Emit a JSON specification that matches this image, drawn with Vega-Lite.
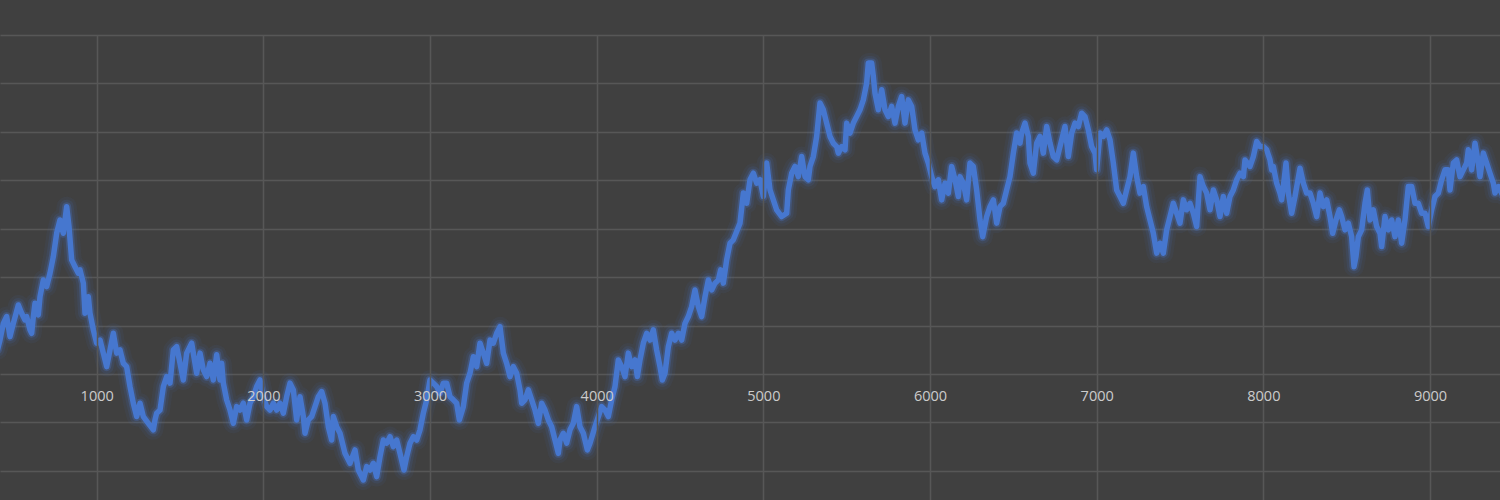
{
  "$schema": "https://vega.github.io/schema/vega-lite/v6.json",
  "width": 1500,
  "height": 465,
  "autosize": {"type": "none"},
  "padding": {"top": 35, "left": 0, "right": 0, "bottom": 0},
  "background": "#404040",
  "config": {
    "view": {"stroke": null},
    "axis": {"gridColor": "#575757", "gridWidth": 1.5, "gridOpacity": 1, "domain": false, "ticks": false}
  },
  "data": {"values": [
    {"step":405,"value":10.0},{"step":420,"value":14.0},{"step":440,"value":20.9},{"step":460,"value":23.7},{"step":480,"value":15.4},{"step":500,"value":20.9},{"step":530,"value":28.5},{"step":550,"value":25.1},{"step":570,"value":22.3},{"step":580,"value":23.7},{"step":600,"value":18.2},{"step":610,"value":16.8},{"step":620,"value":23.7},{"step":630,"value":29.2},{"step":650,"value":24.4},{"step":660,"value":31.9},{"step":680,"value":38.8},{"step":700,"value":36.1},{"step":720,"value":41.6},{"step":740,"value":48.5},{"step":760,"value":58.1},{"step":780,"value":63.6},{"step":800,"value":58.1},{"step":820,"value":69.1},{"step":834,"value":60.9},{"step":850,"value":47.1},{"step":870,"value":44.3},{"step":890,"value":41.6},{"step":900,"value":43.0},{"step":920,"value":37.5},{"step":930,"value":25.1},{"step":950,"value":31.9},{"step":960,"value":25.1},{"step":980,"value":18.2},{"step":1000,"value":12.7},{"step":1020,"value":14.0},{"step":1040,"value":8.6},{"step":1060,"value":3.0},{"step":1080,"value":9.9},{"step":1100,"value":16.8},{"step":1120,"value":8.6},{"step":1140,"value":9.9},{"step":1160,"value":4.4},{"step":1180,"value":3.0},{"step":1200,"value":-5.2},{"step":1220,"value":-12.1},{"step":1240,"value":-17.6},{"step":1260,"value":-12.1},{"step":1280,"value":-17.6},{"step":1310,"value":-20.4},{"step":1340,"value":-23.1},{"step":1350,"value":-19.0},{"step":1360,"value":-16.2},{"step":1380,"value":-14.9},{"step":1400,"value":-5.2},{"step":1420,"value":-1.1},{"step":1440,"value":-3.8},{"step":1460,"value":9.9},{"step":1480,"value":11.3},{"step":1500,"value":4.4},{"step":1520,"value":-2.5},{"step":1540,"value":8.6},{"step":1570,"value":12.7},{"step":1590,"value":4.4},{"step":1600,"value":0.3},{"step":1620,"value":8.6},{"step":1640,"value":1.7},{"step":1660,"value":-1.1},{"step":1680,"value":4.4},{"step":1700,"value":-2.5},{"step":1720,"value":7.9},{"step":1740,"value":-2.5},{"step":1750,"value":4.4},{"step":1760,"value":-3.8},{"step":1780,"value":-10.7},{"step":1800,"value":-14.9},{"step":1820,"value":-20.4},{"step":1840,"value":-13.5},{"step":1860,"value":-14.9},{"step":1880,"value":-12.1},{"step":1900,"value":-19.0},{"step":1920,"value":-12.1},
    {"step":1940,"value":-9.4},{"step":1960,"value":-5.2},{"step":1980,"value":-2.5},{"step":2000,"value":-9.4},{"step":2020,"value":-13.5},{"step":2040,"value":-14.9},{"step":2060,"value":-12.1},{"step":2080,"value":-14.9},{"step":2100,"value":-12.1},{"step":2120,"value":-16.2},{"step":2140,"value":-9.4},{"step":2160,"value":-3.8},{"step":2180,"value":-6.6},{"step":2200,"value":-19.0},{"step":2220,"value":-9.4},{"step":2240,"value":-17.6},{"step":2250,"value":-24.5},{"step":2270,"value":-19.0},{"step":2290,"value":-17.6},{"step":2310,"value":-13.5},{"step":2330,"value":-9.4},{"step":2350,"value":-7.3},{"step":2370,"value":-12.1},{"step":2390,"value":-21.8},{"step":2410,"value":-27.3},{"step":2420,"value":-17.6},{"step":2440,"value":-21.8},{"step":2460,"value":-24.5},{"step":2490,"value":-32.8},{"step":2520,"value":-36.9},{"step":2550,"value":-31.4},{"step":2570,"value":-39.7},{"step":2600,"value":-43.8},{"step":2620,"value":-38.3},{"step":2640,"value":-39.7},{"step":2660,"value":-36.9},{"step":2680,"value":-42.4},{"step":2700,"value":-34.2},{"step":2720,"value":-27.3},{"step":2740,"value":-28.6},{"step":2760,"value":-25.9},{"step":2780,"value":-30.0},{"step":2800,"value":-27.3},{"step":2820,"value":-32.8},{"step":2844,"value":-39.7},{"step":2860,"value":-34.2},{"step":2880,"value":-28.6},{"step":2900,"value":-25.9},{"step":2920,"value":-27.3},{"step":2940,"value":-23.1},{"step":2960,"value":-16.2},{"step":2980,"value":-10.7},{"step":3000,"value":-2.5},{"step":3020,"value":-3.8},{"step":3040,"value":-5.2},{"step":3060,"value":-8.0},{"step":3080,"value":-3.8},{"step":3100,"value":-3.8},{"step":3120,"value":-9.4},{"step":3140,"value":-10.7},{"step":3160,"value":-12.1},{"step":3176,"value":-19.0},{"step":3200,"value":-13.5},{"step":3220,"value":-3.8},{"step":3240,"value":0.3},{"step":3260,"value":7.1},{"step":3280,"value":3.0},{"step":3300,"value":12.7},{"step":3320,"value":8.6},{"step":3340,"value":4.4},{"step":3360,"value":14.0},{"step":3380,"value":12.7},{"step":3400,"value":16.8},{"step":3420,"value":19.5},
    {"step":3440,"value":8.6},{"step":3460,"value":4.4},{"step":3480,"value":-1.1},{"step":3500,"value":3.0},{"step":3520,"value":0.3},{"step":3540,"value":-6.6},{"step":3550,"value":-12.1},{"step":3570,"value":-10.7},{"step":3590,"value":-6.6},{"step":3610,"value":-10.7},{"step":3630,"value":-14.9},{"step":3650,"value":-20.4},{"step":3670,"value":-12.1},{"step":3690,"value":-14.9},{"step":3710,"value":-19.0},{"step":3730,"value":-21.8},{"step":3750,"value":-27.3},{"step":3770,"value":-32.8},{"step":3780,"value":-27.3},{"step":3800,"value":-24.5},{"step":3820,"value":-28.6},{"step":3840,"value":-23.1},{"step":3860,"value":-20.4},{"step":3880,"value":-13.5},{"step":3900,"value":-21.8},{"step":3920,"value":-24.5},{"step":3944,"value":-31.4},{"step":3960,"value":-28.6},{"step":3990,"value":-21.8},{"step":4010,"value":-17.6},{"step":4030,"value":-13.5},{"step":4050,"value":-14.9},{"step":4070,"value":-17.6},{"step":4090,"value":-10.7},{"step":4110,"value":-5.2},{"step":4130,"value":5.8},{"step":4150,"value":3.0},{"step":4170,"value":-1.1},{"step":4190,"value":8.6},{"step":4210,"value":3.0},{"step":4230,"value":5.8},{"step":4244,"value":-1.1},{"step":4260,"value":5.8},{"step":4280,"value":12.7},{"step":4300,"value":16.8},{"step":4320,"value":14.0},{"step":4340,"value":18.2},{"step":4360,"value":9.9},{"step":4380,"value":3.0},{"step":4394,"value":-2.5},{"step":4410,"value":0.3},{"step":4430,"value":11.3},{"step":4450,"value":16.8},{"step":4470,"value":14.0},{"step":4490,"value":16.8},{"step":4510,"value":14.0},{"step":4530,"value":20.9},{"step":4550,"value":23.7},{"step":4570,"value":27.8},{"step":4590,"value":34.7},{"step":4610,"value":27.8},{"step":4630,"value":23.7},{"step":4650,"value":31.9},{"step":4670,"value":38.8},{"step":4690,"value":34.7},{"step":4710,"value":37.5},{"step":4730,"value":38.8},{"step":4744,"value":43.0},{"step":4760,"value":37.5},{"step":4780,"value":47.1},{"step":4800,"value":54.0},{"step":4820,"value":55.4},
    {"step":4860,"value":62.3},{"step":4880,"value":74.7},{"step":4900,"value":70.5},{"step":4920,"value":80.2},{"step":4940,"value":82.9},{"step":4960,"value":78.8},{"step":4980,"value":80.2},{"step":5000,"value":73.3},{"step":5020,"value":87.1},{"step":5040,"value":76.0},{"step":5060,"value":71.9},{"step":5080,"value":67.8},{"step":5110,"value":65.0},{"step":5140,"value":66.4},{"step":5150,"value":76.0},{"step":5170,"value":82.9},{"step":5190,"value":85.7},{"step":5210,"value":81.5},{"step":5230,"value":89.8},{"step":5250,"value":81.5},{"step":5270,"value":80.2},{"step":5280,"value":85.7},{"step":5300,"value":89.8},{"step":5320,"value":98.1},{"step":5340,"value":111.9},{"step":5360,"value":109.1},{"step":5380,"value":103.6},{"step":5400,"value":98.1},{"step":5420,"value":95.3},{"step":5440,"value":93.9},{"step":5450,"value":91.2},{"step":5470,"value":93.9},{"step":5490,"value":92.6},{"step":5500,"value":103.6},{"step":5520,"value":99.5},{"step":5540,"value":103.6},{"step":5560,"value":106.3},{"step":5580,"value":109.1},{"step":5600,"value":113.2},{"step":5620,"value":120.1},{"step":5630,"value":128.4},{"step":5650,"value":128.4},{"step":5660,"value":122.9},{"step":5670,"value":116.0},{"step":5690,"value":109.1},{"step":5710,"value":117.4},{"step":5730,"value":109.1},{"step":5750,"value":106.3},{"step":5770,"value":110.5},{"step":5790,"value":103.6},{"step":5810,"value":110.5},{"step":5830,"value":114.6},{"step":5850,"value":103.6},{"step":5870,"value":113.2},{"step":5890,"value":110.5},{"step":5910,"value":100.8},{"step":5930,"value":96.7},{"step":5950,"value":99.5},{"step":5970,"value":91.2},{"step":5990,"value":87.1},{"step":6010,"value":81.5},{"step":6030,"value":77.4},{"step":6050,"value":80.2},{"step":6070,"value":71.9},{"step":6090,"value":78.8},{"step":6110,"value":74.7},{"step":6130,"value":85.7},{"step":6150,"value":80.2},{"step":6170,"value":73.3},{"step":6180,"value":81.5},{"step":6200,"value":78.8},{"step":6220,"value":71.9},{"step":6240,"value":87.1},{"step":6260,"value":85.7},{"step":6280,"value":76.0},{"step":6300,"value":63.6},{"step":6316,"value":56.7},{"step":6340,"value":65.0},{"step":6360,"value":69.1},{"step":6380,"value":71.9},{"step":6400,"value":62.3},{"step":6420,"value":69.1},
    {"step":6440,"value":70.5},{"step":6460,"value":76.0},{"step":6480,"value":81.5},{"step":6500,"value":91.2},{"step":6520,"value":99.5},{"step":6540,"value":95.3},{"step":6550,"value":99.5},{"step":6570,"value":103.6},{"step":6590,"value":98.1},{"step":6600,"value":87.1},{"step":6620,"value":82.9},{"step":6640,"value":95.3},{"step":6660,"value":98.1},{"step":6680,"value":91.2},{"step":6700,"value":102.2},{"step":6720,"value":95.3},{"step":6740,"value":89.8},{"step":6760,"value":88.4},{"step":6780,"value":93.9},{"step":6810,"value":102.2},{"step":6830,"value":89.8},{"step":6850,"value":99.5},{"step":6870,"value":103.6},{"step":6890,"value":102.2},{"step":6910,"value":107.7},{"step":6930,"value":106.3},{"step":6950,"value":100.8},{"step":6970,"value":93.9},{"step":6990,"value":91.2},{"step":7000,"value":84.3},{"step":7020,"value":99.5},{"step":7040,"value":98.1},{"step":7060,"value":100.8},{"step":7080,"value":96.7},{"step":7100,"value":87.1},{"step":7120,"value":76.0},{"step":7140,"value":73.3},{"step":7160,"value":70.5},{"step":7180,"value":76.0},{"step":7200,"value":81.5},{"step":7220,"value":91.2},{"step":7240,"value":81.5},{"step":7260,"value":74.7},{"step":7280,"value":77.4},{"step":7300,"value":69.1},{"step":7320,"value":63.6},{"step":7340,"value":58.1},{"step":7360,"value":49.9},{"step":7380,"value":54.0},{"step":7400,"value":49.9},{"step":7420,"value":59.5},{"step":7440,"value":65.0},{"step":7460,"value":70.5},{"step":7480,"value":66.4},{"step":7500,"value":62.3},{"step":7520,"value":71.9},{"step":7540,"value":67.8},{"step":7560,"value":70.5},{"step":7580,"value":66.4},{"step":7600,"value":60.9},{"step":7620,"value":81.5},{"step":7640,"value":77.4},{"step":7660,"value":74.7},{"step":7680,"value":67.8},{"step":7700,"value":76.0},{"step":7720,"value":71.9},{"step":7740,"value":65.0},{"step":7760,"value":73.3},{"step":7780,"value":66.4},{"step":7800,"value":73.3},{"step":7820,"value":76.0},{"step":7840,"value":80.2},{"step":7860,"value":82.9},{"step":7880,"value":81.5},{"step":7890,"value":88.4},{"step":7920,"value":85.7},
    {"step":7940,"value":89.8},{"step":7960,"value":96.0},{"step":7980,"value":93.9},{"step":8000,"value":93.9},{"step":8020,"value":92.6},{"step":8040,"value":88.4},{"step":8050,"value":84.3},{"step":8060,"value":85.7},{"step":8080,"value":78.8},{"step":8100,"value":74.7},{"step":8110,"value":71.9},{"step":8120,"value":77.4},{"step":8136,"value":87.1},{"step":8150,"value":74.7},{"step":8170,"value":66.4},{"step":8190,"value":73.3},{"step":8220,"value":85.0},{"step":8240,"value":78.8},{"step":8260,"value":74.7},{"step":8280,"value":74.7},{"step":8300,"value":70.5},{"step":8320,"value":65.0},{"step":8340,"value":74.7},{"step":8360,"value":69.1},{"step":8380,"value":71.9},{"step":8400,"value":65.0},{"step":8416,"value":58.1},{"step":8436,"value":63.6},{"step":8456,"value":67.8},{"step":8470,"value":65.0},{"step":8490,"value":59.5},{"step":8510,"value":62.3},{"step":8530,"value":56.7},{"step":8544,"value":44.3},{"step":8556,"value":48.5},{"step":8570,"value":56.7},{"step":8590,"value":59.5},{"step":8610,"value":70.5},{"step":8624,"value":76.0},{"step":8640,"value":63.6},{"step":8660,"value":67.8},{"step":8680,"value":60.9},{"step":8700,"value":58.1},{"step":8710,"value":52.6},{"step":8730,"value":65.0},{"step":8750,"value":59.5},{"step":8770,"value":63.6},{"step":8790,"value":56.7},{"step":8810,"value":63.6},{"step":8830,"value":54.0},{"step":8850,"value":63.6},{"step":8870,"value":77.4},{"step":8890,"value":77.4},{"step":8910,"value":70.5},{"step":8930,"value":70.5},{"step":8950,"value":66.4},{"step":8970,"value":66.4},{"step":8990,"value":60.9},{"step":9010,"value":67.8},{"step":9030,"value":73.3},{"step":9050,"value":74.7},{"step":9070,"value":80.2},{"step":9090,"value":84.3},{"step":9110,"value":84.3},{"step":9120,"value":76.0},{"step":9140,"value":87.1},{"step":9160,"value":88.4},{"step":9180,"value":81.5},{"step":9200,"value":84.3},{"step":9220,"value":87.1},{"step":9230,"value":92.6},{"step":9250,"value":84.3},{"step":9270,"value":95.3},{"step":9290,"value":87.1},{"step":9300,"value":81.5},{"step":9320,"value":91.2},{"step":9340,"value":87.1},{"step":9360,"value":82.9},{"step":9380,"value":78.8},{"step":9390,"value":74.7},{"step":9410,"value":77.4},{"step":9420,"value":76.0},{"step":9435,"value":74.0}
  ]},
  "encoding": {
    "x": {
      "field": "step", "type": "quantitative",
      "scale": {"domain": [420, 9420], "nice": false, "zero": false},
      "axis": {
        "title": null, "orient": "bottom", "offset": -126, "zindex": 1,
        "values": [1000, 2000, 3000, 4000, 5000, 6000, 7000, 8000, 9000],
        "format": "d", "labelFont": "Open Sans", "labelFontSize": 14.5, "labelColor": "#cccccc",
        "labelBaseline": "middle", "labelPadding": 22, "labelFlush": false, "labelOverlap": false
      }
    },
    "y": {
      "field": "value", "type": "quantitative",
      "scale": {"domain": [-52.07, 140], "nice": false, "zero": false},
      "axis": {"title": null, "labels": false, "values": [-40, -20, 0, 20, 40, 60, 80, 100, 120, 140]}
    }
  },
  "layer": [
    {"mark": {"type": "line", "color": "#4472C4", "strokeWidth": 20, "opacity": 0.07, "strokeJoin": "round", "strokeCap": "round", "clip": true}},
    {"mark": {"type": "line", "color": "#4472C4", "strokeWidth": 14, "opacity": 0.12, "strokeJoin": "round", "strokeCap": "round", "clip": true}},
    {"mark": {"type": "line", "color": "#4a7dd6", "strokeWidth": 9, "opacity": 0.25, "strokeJoin": "round", "strokeCap": "round", "clip": true}},
    {"mark": {"type": "line", "color": "#4677cf", "strokeWidth": 5.5, "strokeJoin": "round", "strokeCap": "round", "clip": true}}
  ]
}
